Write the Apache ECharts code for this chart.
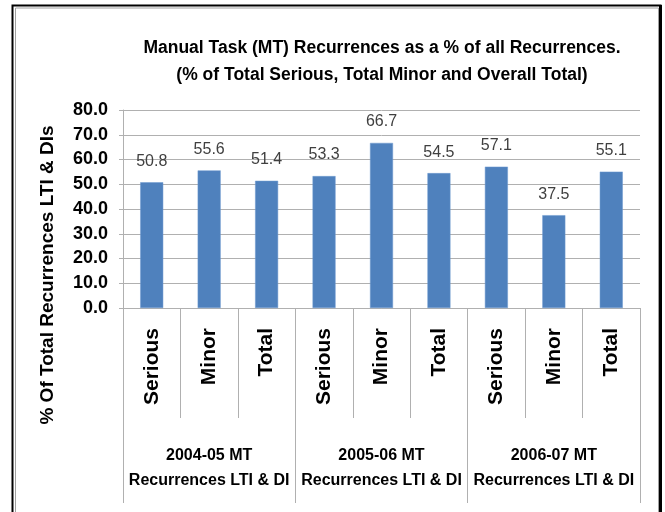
<!DOCTYPE html>
<html>
<head>
<meta charset="utf-8">
<script src="https://cdn.jsdelivr.net/npm/echarts@6/dist/echarts.min.js"></script>
<style>
html,body{margin:0;padding:0;background:#fff;}
#c{width:665px;height:512px;}
</style>
</head>
<body>
<div id="c"></div>
<script>
const categories = ['Serious','Minor','Total','Serious','Minor','Total','Serious','Minor','Total'];
const values = [50.8, 55.6, 51.4, 53.3, 66.7, 54.5, 57.1, 37.5, 55.1];
const groups = ['2004-05 MT\nRecurrences LTI & DI','2005-06 MT\nRecurrences LTI & DI','2006-07 MT\nRecurrences LTI & DI'];
const titleLines = ['Manual Task (MT) Recurrences as a % of all Recurrences.','(% of Total Serious, Total Minor and Overall Total)'];
const yAxisTitle = '% Of Total Recurrences LTI & DIs';

const SANS = "'Liberation Sans',Arial,sans-serif";
const chart = echarts.init(document.getElementById('c'), null, {renderer:'canvas'});
chart.setOption({
  animation:false,
  backgroundColor:'#fff',
  title:{
    text: titleLines.join('\n'),
    left: 377, top: 30, textAlign:'center',
    textStyle:{fontFamily:SANS, fontWeight:'bold', fontSize:17.5, lineHeight:27, color:'#000'}
  },
  grid:{left:123, right:25, top:110, bottom:204, containLabel:false, outerBoundsMode:'none'},
  xAxis:[{
    type:'category', data:categories, position:'bottom',
    axisLine:{show:true, lineStyle:{color:'#b0b0b0', width:1}},
    axisTick:{show:true, interval:0, length:110, lineStyle:{color:'#b0b0b0'}},
    axisLabel:{interval:0, rotate:90, margin:20, color:'#000', fontFamily:SANS, fontWeight:'bold', fontSize:21}
  },{
    type:'category', data:groups, position:'bottom',
    axisLine:{show:false},
    axisTick:{show:true, interval:0, length:195, lineStyle:{color:'#b0b0b0'}},
    axisLabel:{interval:0, margin:135, lineHeight:25, color:'#000', fontFamily:SANS, fontWeight:'bold', fontSize:16}
  }],
  yAxis:{
    type:'value', min:0, max:80, interval:10,
    axisLine:{show:true, lineStyle:{color:'#b0b0b0'}},
    axisTick:{show:true, length:4, lineStyle:{color:'#b0b0b0'}},
    splitLine:{show:true, lineStyle:{color:'#b0b0b0'}},
    axisLabel:{margin:15, color:'#000', fontFamily:SANS, fontWeight:'bold', fontSize:18, formatter:v=>v.toFixed(1)}
  },
  series:[{
    type:'bar', data:values, xAxisIndex:0, barWidth:23,
    itemStyle:{color:'#4f81bd', borderColor:'#6f9bd0', borderWidth:0.5},
    label:{show:true, position:'top', distance:13, color:'#404040', fontFamily:SANS, fontSize:16, formatter:p=>p.value.toFixed(1)}
  }],
  graphic:[
    {type:'text', x:48, y:275, rotation:Math.PI/2, style:{text:yAxisTitle, fill:'#000', font:"bold 19px 'Liberation Sans'", align:'center', verticalAlign:'middle', textAlign:'center', textVerticalAlign:'middle'}},
    {type:'rect', shape:{x:12.5, y:5.5, width:648, height:520}, style:{fill:'none', stroke:'#000', lineWidth:2}},
    {type:'rect', shape:{x:15.5, y:8, width:643, height:520}, style:{fill:'none', stroke:'#a0a0a0', lineWidth:1}},
    {type:'line', shape:{x1:660.5, y1:5, x2:660.5, y2:512}, style:{stroke:'#000', lineWidth:3}}
  ]
});
</script>
</body>
</html>
